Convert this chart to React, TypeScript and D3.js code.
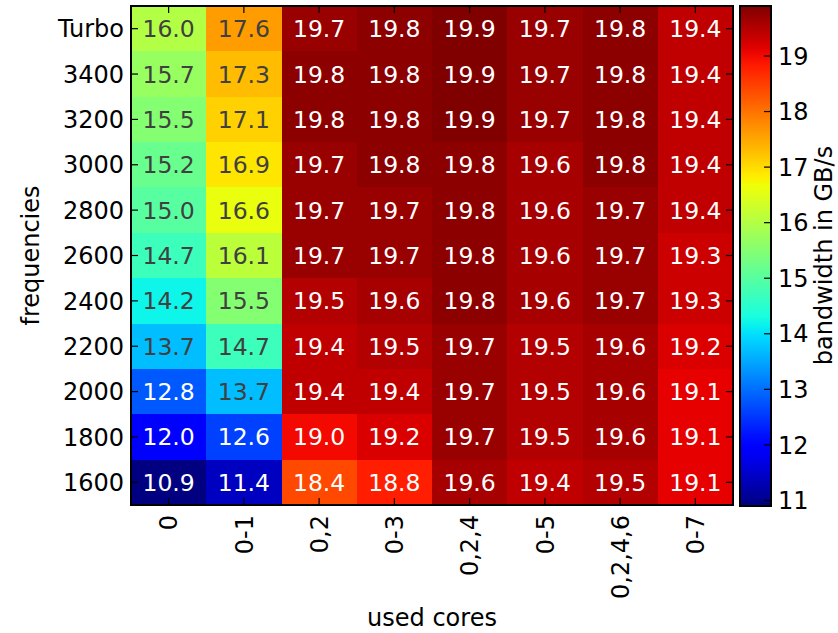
import React from 'react';
import * as d3 from 'd3';

// y rows (top -> bottom) and x columns
const frequencies = ['Turbo', '3400', '3200', '3000', '2800', '2600', '2400', '2200', '2000', '1800', '1600'];
const cores = ['0', '0-1', '0,2', '0-3', '0,2,4', '0-5', '0,2,4,6', '0-7'];

// bandwidth in GB/s, one array per frequency row
const turbo = [16.0, 17.6, 19.7, 19.8, 19.9, 19.7, 19.8, 19.4];
const f3400 = [15.7, 17.3, 19.8, 19.8, 19.9, 19.7, 19.8, 19.4];
const f3200 = [15.5, 17.1, 19.8, 19.8, 19.9, 19.7, 19.8, 19.4];
const f3000 = [15.2, 16.9, 19.7, 19.8, 19.8, 19.6, 19.8, 19.4];
const f2800 = [15.0, 16.6, 19.7, 19.7, 19.8, 19.6, 19.7, 19.4];
const f2600 = [14.7, 16.1, 19.7, 19.7, 19.8, 19.6, 19.7, 19.3];
const f2400 = [14.2, 15.5, 19.5, 19.6, 19.8, 19.6, 19.7, 19.3];
const f2200 = [13.7, 14.7, 19.4, 19.5, 19.7, 19.5, 19.6, 19.2];
const f2000 = [12.8, 13.7, 19.4, 19.4, 19.7, 19.5, 19.6, 19.1];
const f1800 = [12.0, 12.6, 19.0, 19.2, 19.7, 19.5, 19.6, 19.1];
const f1600 = [10.9, 11.4, 18.4, 18.8, 19.6, 19.4, 19.5, 19.1];
const rows = [turbo, f3400, f3200, f3000, f2800, f2600, f2400, f2200, f2000, f1800, f1600];

const cbarTicks = [11, 12, 13, 14, 15, 16, 17, 18, 19];

// matplotlib "jet"
const jetR: [number, number][] = [[0, 0], [0.35, 0], [0.66, 1], [0.89, 1], [1, 0.5]];
const jetG: [number, number][] = [[0, 0], [0.125, 0], [0.375, 1], [0.64, 1], [0.91, 0], [1, 0]];
const jetB: [number, number][] = [[0, 0.5], [0.11, 1], [0.34, 1], [0.65, 0], [1, 0]];
const seg = (pts: [number, number][]) =>
  d3.scaleLinear().domain(pts.map(p => p[0])).range(pts.map(p => p[1])).clamp(true);
const sr = seg(jetR), sg = seg(jetG), sb = seg(jetB);
const jet = (t: number) =>
  d3.rgb(Math.round(sr(t) * 255), Math.round(sg(t) * 255), Math.round(sb(t) * 255)).formatHex();

const W = 838, H = 633;
const left = 131, right = 733, top = 6, bottom = 505;
const cbL = 740, cbR = 771;
const font = 'DejaVu Sans, sans-serif';

const App = () => {
  const vmin = 10.9, vmax = 19.9;
  const norm = d3.scaleLinear().domain([vmin, vmax]).range([0, 1]).clamp(true);
  const x = d3.scaleBand<string>().domain(cores).range([left, right]);
  const y = d3.scaleBand<string>().domain(frequencies).range([top, bottom]);
  const cy = d3.scaleLinear().domain([vmin, vmax]).range([bottom + 1, top]);
  const stops = d3.range(0, 1.0001, 0.02);

  // white text on the dark ends of the map, grey in the middle
  const textColor = (v: number) => {
    const t = norm(v);
    return t < 0.25 || t > 0.78 ? '#ffffff' : '#404040';
  };

  return (
    <svg width={W} height={H} style={{position: 'absolute', left: 0, top: 0}} fontFamily={font}>
      <defs>
        <linearGradient id="jet" x1="0" y1="1" x2="0" y2="0">
          {stops.map(s => <stop key={s} offset={s} stopColor={jet(s)} />)}
        </linearGradient>
      </defs>

      {rows.map((vals, i) =>
        vals.map((v, j) => (
          <g key={`${i}-${j}`}>
            <rect x={x(cores[j])} y={y(frequencies[i])} width={x.bandwidth() + 0.6}
              height={y.bandwidth() + 0.6} fill={jet(norm(v))} shapeRendering="crispEdges" />
            <text x={(x(cores[j]) as number) + x.bandwidth() / 2}
              y={(y(frequencies[i]) as number) + y.bandwidth() / 2}
              dy="0.36em" textAnchor="middle" fontSize={23.5} fill={textColor(v)}>
              {v.toFixed(1)}
            </text>
          </g>
        ))
      )}

      {/* ticks, matplotlib style (inward, all four sides) */}
      {cores.map(c => {
        const cx = (x(c) as number) + x.bandwidth() / 2;
        return (
          <g key={c}>
            <line x1={cx} x2={cx} y1={top} y2={top + 7} stroke="#000" strokeWidth={1.2} />
            <line x1={cx} x2={cx} y1={bottom} y2={bottom - 7} stroke="#000" strokeWidth={1.2} />
            <text transform={`translate(${cx},${bottom + 10}) rotate(-90)`} dy="0.36em"
              textAnchor="end" fontSize={24} fill="#000">{c}</text>
          </g>
        );
      })}
      {frequencies.map(f => {
        const fy = (y(f) as number) + y.bandwidth() / 2;
        return (
          <g key={f}>
            <line x1={left} x2={left + 7} y1={fy} y2={fy} stroke="#000" strokeWidth={1.2} />
            <line x1={right} x2={right - 7} y1={fy} y2={fy} stroke="#000" strokeWidth={1.2} />
            <text x={left - 7} y={fy} dy="0.36em" textAnchor="end" fontSize={24} fill="#000">{f}</text>
          </g>
        );
      })}
      <rect x={left} y={top} width={right - left} height={bottom - top} fill="none" stroke="#000" strokeWidth={2} />

      <text x={(left + right) / 2} y={626} textAnchor="middle" fontSize={24} fill="#000">used cores</text>
      <text transform={`translate(39,${(top + bottom) / 2}) rotate(-90)`} textAnchor="middle"
        fontSize={24} fill="#000">frequencies</text>

      {/* colorbar */}
      <rect x={cbL} y={top} width={cbR - cbL} height={bottom + 1 - top} fill="url(#jet)" />
      {cbarTicks.map(t => (
        <g key={t}>
          <line x1={cbR} x2={cbR - 7} y1={cy(t)} y2={cy(t)} stroke="#000" strokeWidth={1.2} />
          <text x={cbR + 7} y={cy(t)} dy="0.36em" fontSize={24} fill="#000">{t}</text>
        </g>
      ))}
      <rect x={cbL} y={top} width={cbR - cbL} height={bottom + 1 - top} fill="none" stroke="#000" strokeWidth={2} />
      <text transform={`translate(832,${(top + bottom) / 2}) rotate(-90)`} textAnchor="middle"
        fontSize={24} fill="#000">bandwidth in GB/s</text>
    </svg>
  );
};

export default App;
